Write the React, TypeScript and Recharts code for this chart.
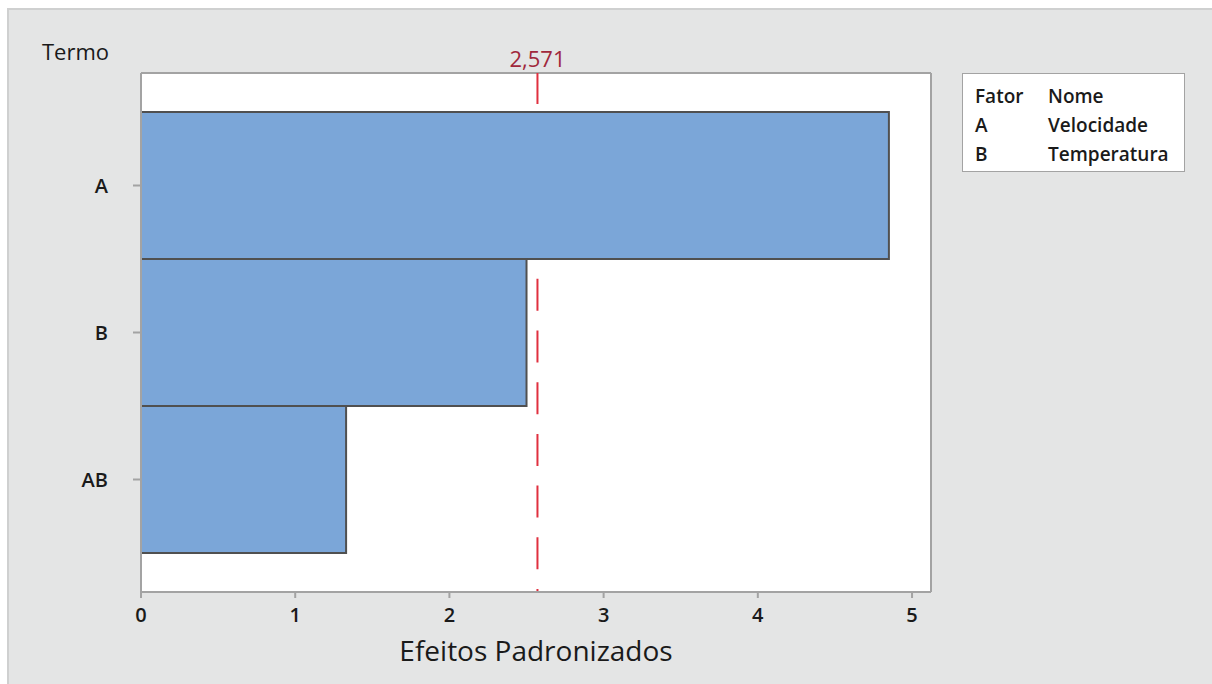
import React from "react";
import { Bar, BarChart, ReferenceLine, XAxis, YAxis, CartesianGrid } from "recharts";

// Standardized effects (Pareto chart, alpha = 0.05)
const termos = ["A", "B", "AB"];
const efeitos = [4.85, 2.5, 1.33];
const limite = 2.571;
const limiteTexto = "2,571";
const xTicks = [0, 1, 2, 3, 4, 5];
const xMax = 5.123;

const fatores = ["A", "B"];
const nomes = ["Velocidade", "Temperatura"];

const chartData = termos.map((termo, i) => ({ termo, efeito: efeitos[i] }));

const FONT = "'Open Sans', 'Noto Sans', sans-serif";
const PANEL_W = 1205;
const PANEL_H = 676;
const FRAME = "#a3a3a3";

type GridArgs = { offset: { top: number; left: number; width: number; height: number } };

// the grid only draws the outer frame of the plot area
const frameRows = ({ offset }: GridArgs) => [offset.top, offset.top + offset.height];
const frameCols = ({ offset }: GridArgs) => [offset.left, offset.left + offset.width];

export default function App() {
  return (
    <div
      style={{
        position: "absolute",
        left: 7,
        top: 8,
        width: PANEL_W,
        height: PANEL_H,
        background: "#e4e5e5",
        borderTop: "2px solid #cfd0d0",
        borderLeft: "2px solid #cfd0d0",
        boxSizing: "border-box",
        fontFamily: FONT,
        color: "#1a1a1a",
        overflow: "hidden",
      }}
    >
      <div style={{ position: "absolute", left: 0, top: 0 }}>
        <BarChart
          width={PANEL_W}
          height={PANEL_H}
          data={chartData}
          layout="vertical"
          barCategoryGap={0}
          barGap={0}
          margin={{ top: 63, right: 283, left: 72, bottom: 24 }}
        >
          <CartesianGrid
            fill="#ffffff"
            stroke={FRAME}
            strokeWidth={2}
            horizontalCoordinatesGenerator={frameRows}
            verticalCoordinatesGenerator={frameCols}
          />
          <XAxis
            type="number"
            domain={[0, xMax]}
            ticks={xTicks}
            allowDataOverflow
            height={70}
            tickSize={6}
            tickMargin={10}
            stroke={FRAME}
            strokeWidth={2}
            tick={{ fill: "#1a1a1a", fontSize: 20, fontWeight: 600 }}
            label={{ value: "Efeitos Padronizados", position: "insideBottom", offset: 1, fontSize: 28, fill: "#1a1a1a" }}
          />
          <YAxis
            type="category"
            dataKey="termo"
            width={60}
            padding={{ top: 39, bottom: 39 }}
            tickSize={8}
            tickMargin={25}
            stroke={FRAME}
            strokeWidth={2}
            tick={{ fill: "#1a1a1a", fontSize: 20, fontWeight: 600 }}
          />
          <ReferenceLine
            x={limite}
            stroke="#e0303f"
            strokeWidth={2}
            strokeDasharray="32 19.7"
            strokeDashoffset={29}
            zIndex={200}
            label={{ value: limiteTexto, position: "top", offset: 6, fill: "#a0283c", fontSize: 22 }}
          />
          <Bar dataKey="efeito" fill="#7ba6d8" stroke="#505050" strokeWidth={2} isAnimationActive={false} />
        </BarChart>
      </div>

      <div style={{ position: "absolute", left: 33, top: 30, fontSize: 22, lineHeight: "22px" }}>Termo</div>

      <div
        style={{
          position: "absolute",
          left: 953,
          top: 63,
          width: 223,
          height: 99,
          boxSizing: "border-box",
          background: "#ffffff",
          border: "1px solid #a3a3a3",
          padding: "8px 0 0 12px",
          fontSize: 19,
          fontWeight: 600,
          lineHeight: "29px",
        }}
      >
        <div style={{ display: "flex" }}>
          <span style={{ width: 73 }}>Fator</span>
          <span>Nome</span>
        </div>
        {fatores.map((f, i) => (
          <div key={f} style={{ display: "flex" }}>
            <span style={{ width: 73 }}>{f}</span>
            <span>{nomes[i]}</span>
          </div>
        ))}
      </div>
    </div>
  );
}
